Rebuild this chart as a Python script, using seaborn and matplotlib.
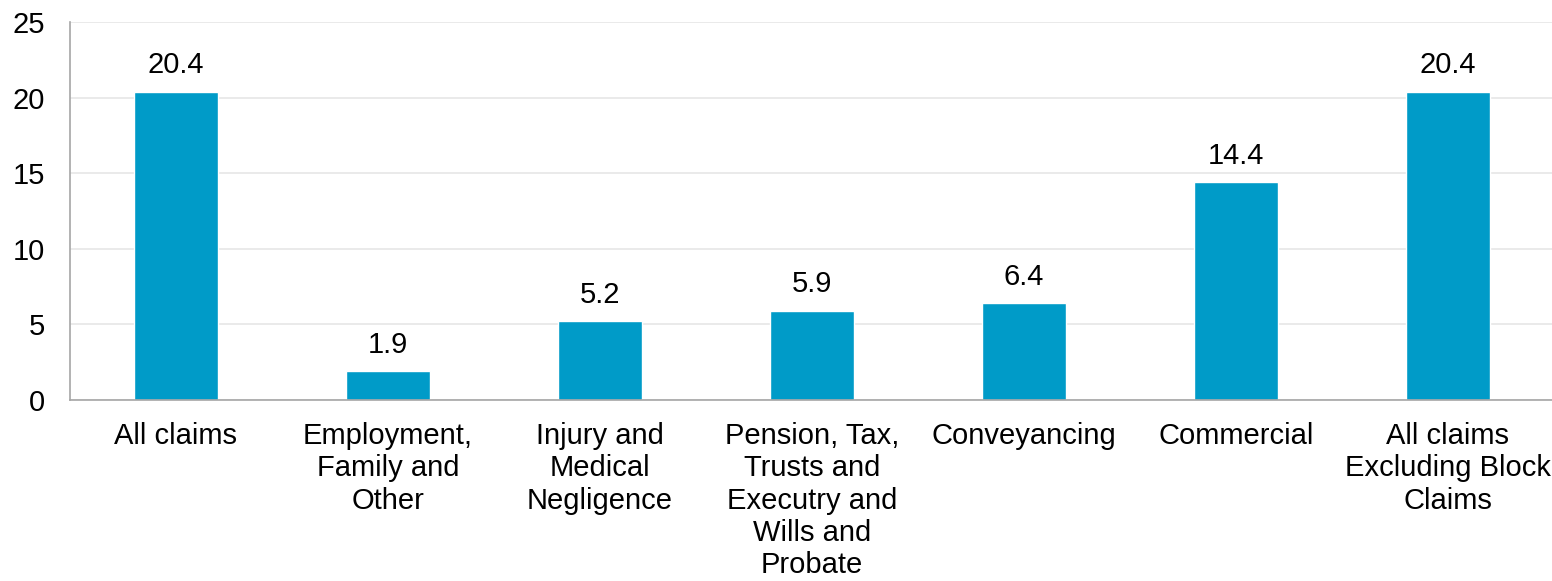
import matplotlib
matplotlib.use("Agg")
import matplotlib.pyplot as plt
import seaborn as sns
import pandas as pd

categories = ["All claims", "Employment,\nFamily and\nOther", "Injury and\nMedical\nNegligence",
              "Pension, Tax,\nTrusts and\nExecutry and\nWills and\nProbate", "Conveyancing",
              "Commercial", "All claims\nExcluding Block\nClaims"]
values = [20.4, 1.9, 5.2, 5.9, 6.4, 14.4, 20.4]
yticks = [0, 5, 10, 15, 20, 25]

sns.set_style("white")
plt.rcParams['font.family'] = ['Liberation Sans', 'DejaVu Sans']
plt.rcParams['text.color'] = 'black'
plt.rcParams['xtick.color'] = 'black'
plt.rcParams['ytick.color'] = 'black'

FS = 21

fig = plt.figure(figsize=(15.52, 5.81), dpi=100)
ax = fig.add_axes([70/1552, 1 - 400/581, 1484/1552, 378/581])

df = pd.DataFrame({"cat": categories, "val": values})
sns.barplot(data=df, x="cat", y="val", color="#009BC8", saturation=1, width=0.4, ax=ax)

ax.set_ylim(0, 25)
ax.set_xlim(-0.5, len(categories) - 0.5)
ax.set_yticks(yticks)
ax.set_yticklabels([str(t) for t in yticks], fontsize=FS)
ax.yaxis.grid(True, color="#E6E6E6", linewidth=1.2)
ax.set_axisbelow(True)
ax.tick_params(axis="both", length=0)
ax.tick_params(axis="y", pad=18)
ax.set_xticks(range(len(categories)))
ax.set_xticklabels(categories, fontsize=FS, linespacing=1.19, va="top")
ax.tick_params(axis="x", pad=16)
ax.set_xlabel("")
ax.set_ylabel("")

for s in ["top", "right"]:
    ax.spines[s].set_visible(False)
for s in ["left", "bottom"]:
    ax.spines[s].set_color("#A6A6A6")
    ax.spines[s].set_linewidth(1.2)

for i, v in enumerate(values):
    ax.annotate(f"{v:.1f}", (i, v), xytext=(0, 9), textcoords="offset points",
                ha="center", va="bottom", fontsize=FS, color="#000000")

fig.savefig("out.png", dpi=100)
